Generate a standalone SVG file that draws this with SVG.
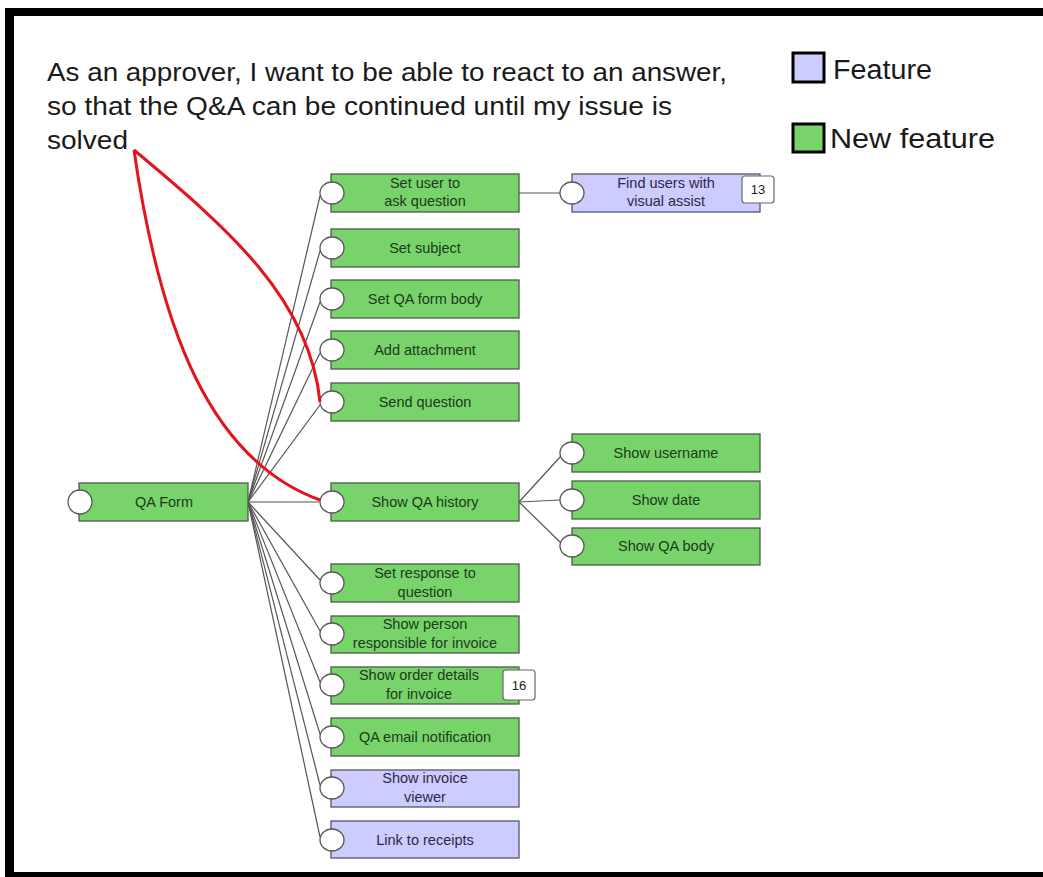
<svg xmlns="http://www.w3.org/2000/svg" width="1043" height="877" viewBox="0 0 1043 877">
  <style>
    .box-new { fill: #78d36a; stroke: #4d5a4d; stroke-width: 1.3; }
    .box-feat { fill: #ccccff; stroke: #55556a; stroke-width: 1.3; }
    .port { fill: #ffffff; stroke: #555555; stroke-width: 1.3; }
    .lbl { font-family: "Liberation Sans", Arial, sans-serif; font-size: 14.5px; text-anchor: middle; }
    .lbl-new { fill: #1c3a1c; }
    .lbl-feat { fill: #2a2a48; }
    .badge { fill: #ffffff; stroke: #666666; stroke-width: 1.2; }
    .badge-txt { font-family: "Liberation Sans", Arial, sans-serif; font-size: 13px; text-anchor: middle; fill: #222; }
    .link { fill: none; stroke: #555555; stroke-width: 1.2; }
    .trace { fill: none; stroke: #e3141c; stroke-width: 3; }
    .story { font-family: "Liberation Sans", Arial, sans-serif; font-size: 25px; fill: #1a1a1a; }
    .legend { font-family: "Liberation Sans", Arial, sans-serif; font-size: 27px; fill: #1a1a1a; }
  </style>

  <rect width="1043" height="877" fill="#ffffff"/>

  <!-- frame -->
  <g id="frame" fill="#000000">
    <rect x="5" y="8" width="1038" height="8"/>
    <rect x="5" y="8" width="9" height="869"/>
    <rect x="5" y="872" width="1038" height="5"/>
  </g>

  <!-- user story -->
  <g id="story">
    <text class="story" x="47" y="81" textLength="680" lengthAdjust="spacingAndGlyphs">As an approver, I want to be able to react to an answer,</text>
    <text class="story" x="47" y="115" textLength="625" lengthAdjust="spacingAndGlyphs">so that the Q&amp;A can be continued until my issue is</text>
    <text class="story" x="47" y="149" textLength="81" lengthAdjust="spacingAndGlyphs">solved</text>
  </g>

  <!-- legend -->
  <g id="legend">
    <rect x="793" y="53" width="31" height="29" fill="#ccccff" stroke="#000" stroke-width="3"/>
    <text class="legend" x="833" y="79" textLength="99" lengthAdjust="spacingAndGlyphs">Feature</text>
    <rect x="793" y="124" width="31" height="28" fill="#78d36a" stroke="#000" stroke-width="3"/>
    <text class="legend" x="830" y="148" textLength="165" lengthAdjust="spacingAndGlyphs">New feature</text>
  </g>

  <!-- connectors -->
  <g id="connectors">
    <line class="link" x1="248" y1="502" x2="320" y2="196"/>
    <line class="link" x1="248" y1="502" x2="320" y2="251"/>
    <line class="link" x1="248" y1="502" x2="320" y2="302"/>
    <line class="link" x1="248" y1="502" x2="320" y2="353"/>
    <line class="link" x1="248" y1="502" x2="320" y2="405"/>
    <line class="link" x1="248" y1="502" x2="319" y2="502"/>
    <line class="link" x1="248" y1="502" x2="320" y2="580"/>
    <line class="link" x1="248" y1="502" x2="320" y2="631"/>
    <line class="link" x1="248" y1="502" x2="320" y2="682"/>
    <line class="link" x1="248" y1="502" x2="320" y2="734"/>
    <line class="link" x1="248" y1="502" x2="320" y2="785"/>
    <line class="link" x1="248" y1="502" x2="320" y2="837"/>
    <line class="link" x1="519" y1="193" x2="560" y2="193"/>
    <line class="link" x1="519" y1="502" x2="561" y2="456"/>
    <line class="link" x1="519" y1="502" x2="560" y2="500"/>
    <line class="link" x1="519" y1="502" x2="561" y2="543"/>
  </g>

  <!-- nodes -->
  <g id="qa-form">
    <rect class="box-new" x="79" y="483" width="169" height="38"/>
    <ellipse class="port" cx="80" cy="502" rx="12" ry="12"/>
    <text class="lbl lbl-new" x="164" y="507">QA Form</text>
  </g>

  <g id="set-user">
    <rect class="box-new" x="331" y="174" width="188" height="38"/>
    <ellipse class="port" cx="332" cy="193" rx="12" ry="11"/>
    <text class="lbl lbl-new" x="425" y="188">Set user to</text>
    <text class="lbl lbl-new" x="425" y="206">ask question</text>
  </g>

  <g id="find-users">
    <rect class="box-feat" x="572" y="174" width="188" height="38"/>
    <ellipse class="port" cx="572" cy="193" rx="12" ry="11"/>
    <text class="lbl lbl-feat" x="666" y="188">Find users with</text>
    <text class="lbl lbl-feat" x="666" y="206">visual assist</text>
    <rect class="badge" x="742" y="176" width="32" height="27" rx="3"/>
    <text class="badge-txt" x="758" y="194">13</text>
  </g>

  <g id="set-subject">
    <rect class="box-new" x="331" y="229" width="188" height="38"/>
    <ellipse class="port" cx="332" cy="248" rx="12" ry="11"/>
    <text class="lbl lbl-new" x="425" y="253">Set subject</text>
  </g>

  <g id="set-body">
    <rect class="box-new" x="331" y="280" width="188" height="38"/>
    <ellipse class="port" cx="332" cy="299" rx="12" ry="11"/>
    <text class="lbl lbl-new" x="425" y="304">Set QA form body</text>
  </g>

  <g id="add-attachment">
    <rect class="box-new" x="331" y="331" width="188" height="38"/>
    <ellipse class="port" cx="332" cy="350" rx="12" ry="11"/>
    <text class="lbl lbl-new" x="425" y="355">Add attachment</text>
  </g>

  <g id="send-question">
    <rect class="box-new" x="331" y="383" width="188" height="38"/>
    <ellipse class="port" cx="332" cy="402" rx="12" ry="11"/>
    <text class="lbl lbl-new" x="425" y="407">Send question</text>
  </g>

  <g id="show-history">
    <rect class="box-new" x="331" y="483" width="188" height="38"/>
    <ellipse class="port" cx="332" cy="502" rx="12" ry="11"/>
    <text class="lbl lbl-new" x="425" y="507">Show QA history</text>
  </g>

  <g id="show-username">
    <rect class="box-new" x="572" y="434" width="188" height="38"/>
    <ellipse class="port" cx="572" cy="453" rx="12" ry="11"/>
    <text class="lbl lbl-new" x="666" y="458">Show username</text>
  </g>

  <g id="show-date">
    <rect class="box-new" x="572" y="481" width="188" height="38"/>
    <ellipse class="port" cx="572" cy="500" rx="12" ry="11"/>
    <text class="lbl lbl-new" x="666" y="505">Show date</text>
  </g>

  <g id="show-body">
    <rect class="box-new" x="572" y="528" width="188" height="37"/>
    <ellipse class="port" cx="572" cy="546" rx="12" ry="11"/>
    <text class="lbl lbl-new" x="666" y="551">Show QA body</text>
  </g>

  <g id="set-response">
    <rect class="box-new" x="331" y="564" width="188" height="38"/>
    <ellipse class="port" cx="332" cy="583" rx="12" ry="11"/>
    <text class="lbl lbl-new" x="425" y="578">Set response to</text>
    <text class="lbl lbl-new" x="425" y="597">question</text>
  </g>

  <g id="show-person">
    <rect class="box-new" x="331" y="616" width="188" height="37"/>
    <ellipse class="port" cx="332" cy="634" rx="12" ry="11"/>
    <text class="lbl lbl-new" x="425" y="629">Show person</text>
    <text class="lbl lbl-new" x="425" y="648">responsible for invoice</text>
  </g>

  <g id="show-order">
    <rect class="box-new" x="331" y="667" width="188" height="37"/>
    <ellipse class="port" cx="332" cy="685" rx="12" ry="11"/>
    <text class="lbl lbl-new" x="419" y="680">Show order details</text>
    <text class="lbl lbl-new" x="419" y="699">for invoice</text>
    <rect class="badge" x="503" y="670" width="32" height="30" rx="3"/>
    <text class="badge-txt" x="519" y="690">16</text>
  </g>

  <g id="email-notification">
    <rect class="box-new" x="331" y="718" width="188" height="38"/>
    <ellipse class="port" cx="332" cy="737" rx="12" ry="11"/>
    <text class="lbl lbl-new" x="425" y="742">QA email notification</text>
  </g>

  <g id="invoice-viewer">
    <rect class="box-feat" x="331" y="770" width="188" height="37"/>
    <ellipse class="port" cx="332" cy="788" rx="12" ry="11"/>
    <text class="lbl lbl-feat" x="425" y="783">Show invoice</text>
    <text class="lbl lbl-feat" x="425" y="802">viewer</text>
  </g>

  <g id="link-receipts">
    <rect class="box-feat" x="331" y="821" width="188" height="37"/>
    <ellipse class="port" cx="332" cy="840" rx="12" ry="11"/>
    <text class="lbl lbl-feat" x="425" y="845">Link to receipts</text>
  </g>

  <!-- trace from the story to the nodes that satisfy it -->
  <g id="trace">
    <path class="trace" d="M134,150 C230,230 310,300 320,402"/>
    <path class="trace" d="M134,150 C160,330 210,460 320,500"/>
  </g>
</svg>
